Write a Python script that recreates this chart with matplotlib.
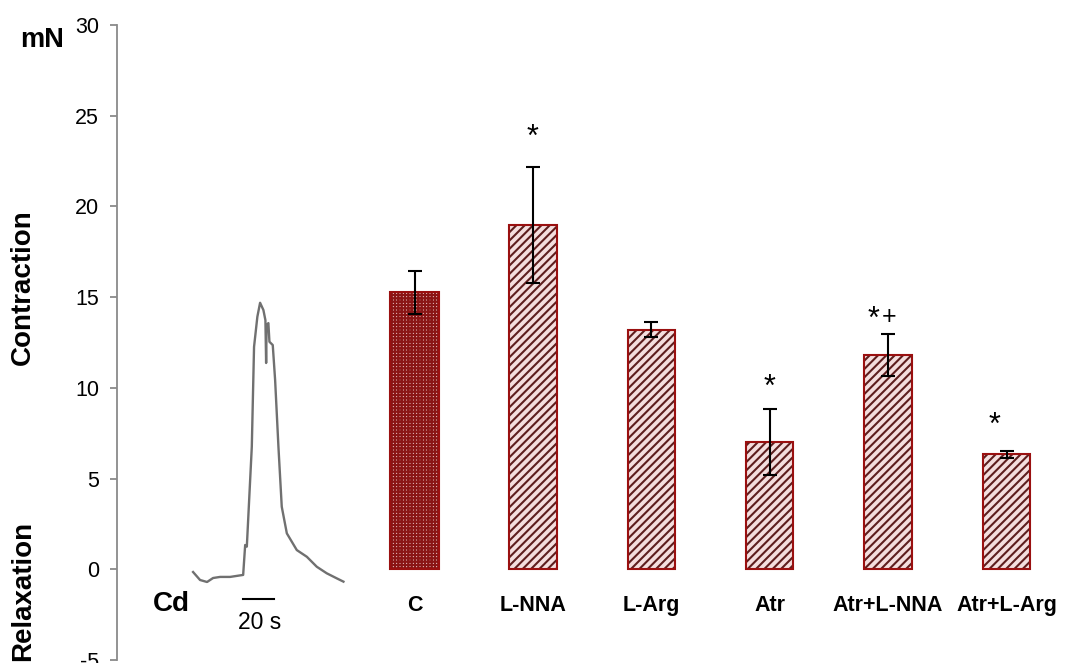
import numpy as np
import matplotlib
matplotlib.use("Agg")
import matplotlib.pyplot as plt

matplotlib.rcParams['font.family'] = ['Liberation Sans', 'DejaVu Sans']
matplotlib.rcParams['axes.unicode_minus'] = False

# mean contraction (mN) and SEM for each treatment
groups = ["C", "L-NNA", "L-Arg", "Atr", "Atr+L-NNA", "Atr+L-Arg"]
means = [15.26, 18.97, 13.2, 7.03, 11.81, 6.35]
sems = [1.17, 3.18, 0.42, 1.82, 1.15, 0.19]

# representative Cd-induced contraction trace (x in slot units, y in mN)
trace_x = [-0.871, -0.812, -0.753, -0.702, -0.643, -0.558, -0.448, -0.431,
           -0.417, -0.375, -0.356, -0.328, -0.305, -0.277, -0.260, -0.254,
           -0.250, -0.235, -0.226, -0.198, -0.178, -0.150, -0.122, -0.079,
           0.005, 0.090, 0.174, 0.258, 0.343, 0.399]
trace_y = [-0.15, -0.59, -0.70, -0.48, -0.42, -0.42, -0.31, 1.34,
           1.25, 6.75, 12.26, 13.92, 14.69, 14.29, 13.73, 11.37,
           13.46, 13.57, 12.54, 12.36, 10.43, 6.75, 3.45, 1.98,
           1.06, 0.69, 0.14, -0.22, -0.50, -0.68]

edge_red = '#9a1010'
x = np.arange(1, len(groups) + 1)

fig = plt.figure(figsize=(10.84, 6.63), dpi=100)
ax = fig.add_axes([0.108, 0.0045, 0.8806, 0.9578])
ax.set_xlim(-1.513, 6.55)
ax.set_ylim(-5, 30)

# control bar: fine dark grid, treatments: diagonal stripes
for i, (xi, m) in enumerate(zip(x, means)):
    w = 0.41 if i == 0 else 0.40
    if i == 0:
        with plt.rc_context({'hatch.linewidth': 1.6}):
            ax.bar(xi, m, width=w, color='#f2d6d6', edgecolor='#8a1515',
                   linewidth=0, hatch='+++++', zorder=2)
    else:
        with plt.rc_context({'hatch.linewidth': 1.5}):
            ax.bar(xi, m, width=w, color='#f4dede', edgecolor='#5e1e1e',
                   linewidth=0, hatch='////', zorder=2)
    ax.bar(xi, m, width=w, fill=False, edgecolor=edge_red, linewidth=1.5, zorder=3)

ax.errorbar(x, means, yerr=sems, fmt='none', ecolor='black',
            elinewidth=1.5, capsize=5, capthick=1.5, zorder=4)

# significance marks (* vs C, + vs Atr)
ax.text(2.0, 23.35, "*", ha='center', va='baseline', fontsize=22)
ax.text(4.0, 9.58, "*", ha='center', va='baseline', fontsize=22)
ax.text(4.88, 13.32, "*", ha='center', va='baseline', fontsize=22)
ax.text(5.007, 13.54, "+", ha='center', va='baseline', fontsize=18)
ax.text(5.90, 7.48, "*", ha='center', va='baseline', fontsize=22)

# group labels under the bars
for xi, g in zip(x, groups):
    ax.text(xi, -1.99, g, ha='center', va='center', fontsize=15.5, fontweight='bold')

# trace and its time scale bar
ax.plot(trace_x, trace_y, color='#707070', linewidth=1.7, zorder=2)
ax.plot([-0.448, -0.187], [-1.64, -1.64], color='black', linewidth=1.5)
ax.text(-0.305, -2.95, "20 s", ha='center', va='center', fontsize=16.5)
ax.text(-1.057, -1.9, "Cd", ha='center', va='center', fontsize=20, fontweight='bold')

for side in ['top', 'right', 'bottom']:
    ax.spines[side].set_visible(False)
ax.spines['left'].set_color('#8a8a8a')
ax.spines['left'].set_linewidth(1.3)
ax.set_xticks([])
ax.set_yticks([-5, 0, 5, 10, 15, 20, 25, 30])
ax.tick_params(axis='y', direction='out', length=5, width=1.3, color='#8a8a8a',
               labelsize=15.5, pad=8)

fig.text(0.0387, 0.94, "mN", ha='center', va='center', fontsize=19.5, fontweight='bold')
fig.text(0.021, 0.567, "Contraction", ha='center', va='center', rotation=90,
         fontsize=20, fontweight='bold')
fig.text(0.021, 0.109, "Relaxation", ha='center', va='center', rotation=90,
         fontsize=20, fontweight='bold')

fig.savefig("out.png", dpi=100)
